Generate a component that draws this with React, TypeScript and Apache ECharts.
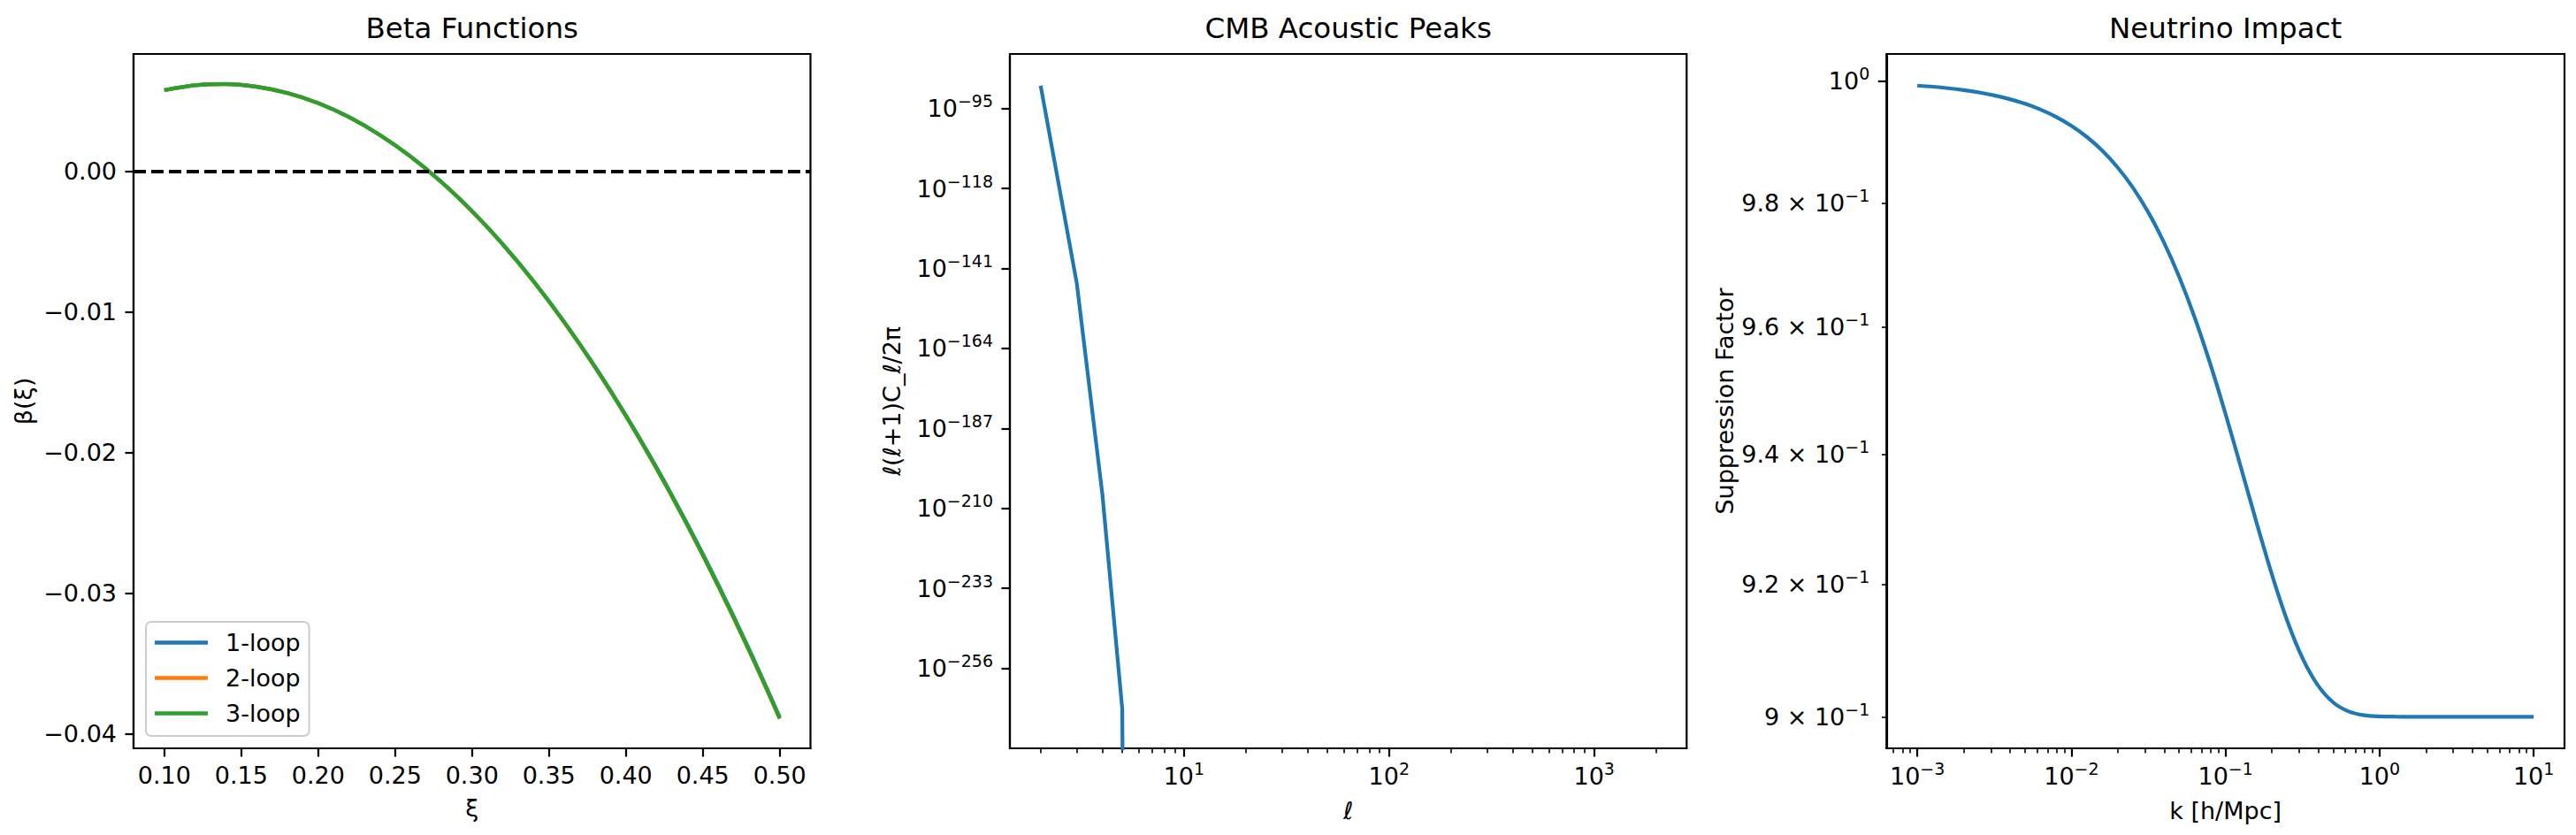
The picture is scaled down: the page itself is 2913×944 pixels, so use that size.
import React, { useEffect, useRef } from 'react';
import * as echarts from 'echarts';

const FONT = 'DejaVu Sans';
const BLUE = '#1f77b4';
const ORANGE = '#ff7f0e';
const GREEN = '#2ca02c';

// ---------- Panel 1: Beta Functions ----------
const xiValues = [0.10, 0.12, 0.14, 0.16, 0.18, 0.20, 0.22, 0.24, 0.26, 0.28, 0.30, 0.32, 0.34, 0.36, 0.38, 0.40, 0.42, 0.44, 0.46, 0.48, 0.50];
const beta1Loop = [0.00575, 0.00610, 0.00619, 0.00600, 0.00555, 0.00483, 0.00384, 0.00257, 0.00104, -0.00077, -0.00285, -0.00520, -0.00783, -0.01073, -0.01391, -0.01736, -0.02109, -0.02511, -0.02940, -0.03397, -0.03883];
const beta2Loop = [0.00574, 0.00609, 0.00618, 0.00599, 0.00554, 0.00482, 0.00383, 0.00256, 0.00103, -0.00078, -0.00287, -0.00523, -0.00786, -0.01078, -0.01397, -0.01743, -0.02118, -0.02521, -0.02951, -0.03409, -0.03895];
const beta3Loop = [0.00574, 0.00609, 0.00618, 0.00599, 0.00554, 0.00482, 0.00383, 0.00256, 0.00103, -0.00078, -0.00286, -0.00522, -0.00785, -0.01076, -0.01395, -0.01741, -0.02116, -0.02518, -0.02948, -0.03406, -0.03892];
const xiTicks = [0.10, 0.15, 0.20, 0.25, 0.30, 0.35, 0.40, 0.45, 0.50];
const betaTicks = [-0.04, -0.03, -0.02, -0.01, 0];

// ---------- Panel 2: CMB Acoustic Peaks ----------
const cmbEll = [2, 3, 4, 5, 6, 10, 100, 1000, 2000];
// log10 of l(l+1)C_l/2pi; null = underflow to 0 (clipped like matplotlib's log scale)
const cmbLog10Dl: (number | null)[] = [-88.4, -145.2, -206.0, -267.7, null, null, null, null, null];
const cmbYTickExps = [-95, -118, -141, -164, -187, -210, -233, -256];
const cmbXTickExps = [1, 2, 3];

// ---------- Panel 3: Neutrino Impact ----------
const kValues = [0.001, 0.001259, 0.001585, 0.001995, 0.002512, 0.003162, 0.003981, 0.005012, 0.00631, 0.007943,
  0.01, 0.01259, 0.01585, 0.01995, 0.02512, 0.03162, 0.03981, 0.05012, 0.0631, 0.07943,
  0.1, 0.1259, 0.1585, 0.1995, 0.2512, 0.3162, 0.3981, 0.5012, 0.631, 0.7943,
  1, 1.259, 1.585, 1.995, 2.512, 3.162, 3.981, 5.012, 6.31, 7.943, 10];
const suppression = [0.99923, 0.99904, 0.99879, 0.99848, 0.99809, 0.99760, 0.99698, 0.99622, 0.99526, 0.99407,
  0.99260, 0.99077, 0.98852, 0.98577, 0.98243, 0.97841, 0.97362, 0.96801, 0.96155, 0.95428,
  0.94633, 0.93797, 0.92955, 0.92155, 0.91448, 0.90878, 0.90468, 0.90212, 0.90078, 0.90022,
  0.90005, 0.90001, 0.90000, 0.90000, 0.90000, 0.90000, 0.90000, 0.90000, 0.90000, 0.90000, 0.90000];
const kTickExps = [-3, -2, -1, 0, 1];
const suppTicks = [0.90, 0.92, 0.94, 0.96, 0.98, 1.0];
const suppTickLabels = ['{b|9 × 10}{s|−1}', '{b|9.2 × 10}{s|−1}', '{b|9.4 × 10}{s|−1}', '{b|9.6 × 10}{s|−1}', '{b|9.8 × 10}{s|−1}', '{b|10}{s|0}'];

const LOG_FLOOR = -1000;

function minorLogTicks(min: number, max: number) {
  const out: number[] = [];
  for (let e = Math.floor(min); e <= Math.ceil(max); e++) {
    for (let m = 2; m <= 9; m++) {
      const v = e + Math.log10(m);
      if (v >= min && v <= max) out.push(v);
    }
  }
  return out;
}

function supLabel(exp: number) {
  const s = exp < 0 ? '−' + Math.abs(exp) : String(exp);
  return `{b|10}{s|${s}}`;
}

const rich = {
  b: { fontSize: 27, fontFamily: FONT, color: '#000', lineHeight: 36 },
  s: { fontSize: 19, fontFamily: FONT, color: '#000', lineHeight: 19, verticalAlign: 'top' },
};

const AX = { color: '#000', width: 2.2 };
const majorTick = (vals: number[]) => ({ show: true, customValues: vals, length: 9.5, lineStyle: { color: '#000', width: 2.2 } });
const minorTick = (vals: number[]) => ({ show: true, customValues: vals, length: 5.4, lineStyle: { color: '#000', width: 1.6 } });

const GRID_TOP = 61;
const GRID_H = 785;
const grids = [
  { left: 151, width: 765.5 },
  { left: 1142, width: 765.3 },
  { left: 2133.3, width: 766.7 },
];

function buildOption() {
  const p2x = [0.151, 3.451];
  const p3x = [-3.2, 1.2];
  const p3y = [-0.04803, 0.00194];
  const plainLabel = { fontSize: 27, fontFamily: FONT, color: '#000', lineHeight: 27 };

  const lineSeries = (name: string, data: number[][], color: string, xi: number, yi: number, extra: any = {}) => ({
    type: 'line', name, data, xAxisIndex: xi, yAxisIndex: yi, showSymbol: false, symbol: 'none',
    lineStyle: { color, width: 4.2 }, itemStyle: { color }, clip: true, silent: true, ...extra,
  });
  const smooth = { smooth: 0.3 };

  return {
    animation: false,
    backgroundColor: '#fff',
    textStyle: { fontFamily: FONT },
    grid: grids.map((g) => ({
      left: g.left, top: GRID_TOP, width: g.width, height: GRID_H,
      show: true, borderColor: '#000', borderWidth: 2.2, backgroundColor: 'transparent',
    })),
    legend: {
      data: ['1-loop', '2-loop', '3-loop'],
      orient: 'vertical', left: 165, top: 703,
      padding: [10, 10, 12, 10], itemGap: 13, itemWidth: 60, itemHeight: 4.5, icon: 'rect',
      backgroundColor: 'rgba(255,255,255,0.8)', borderColor: '#cccccc', borderWidth: 2, borderRadius: 6,
      textStyle: { fontSize: 27, fontFamily: FONT, color: '#000', lineHeight: 27, padding: [0, 0, 0, 15] },
    },
    xAxis: [
      {
        type: 'value', gridIndex: 0, min: 0.08, max: 0.52,
        axisLine: { show: true, onZero: false, lineStyle: AX },
        axisTick: majorTick(xiTicks),
        axisLabel: { ...plainLabel, customValues: xiTicks, margin: 17, formatter: (v: number) => v.toFixed(2) },
        splitLine: { show: false },
      },
      {
        type: 'value', gridIndex: 1, min: p2x[0], max: p2x[1],
        axisLine: { show: true, onZero: false, lineStyle: AX },
        axisTick: majorTick(cmbXTickExps),
        axisLabel: { customValues: cmbXTickExps, margin: 13.6, rich, lineHeight: 36, formatter: (v: number) => supLabel(Math.round(v)) },
        splitLine: { show: false },
      },
      {
        type: 'value', gridIndex: 1, min: p2x[0], max: p2x[1], position: 'bottom',
        axisLine: { show: false, onZero: false },
        axisTick: minorTick(minorLogTicks(p2x[0], p2x[1])),
        axisLabel: { show: false }, splitLine: { show: false },
      },
      {
        type: 'value', gridIndex: 2, min: p3x[0], max: p3x[1],
        axisLine: { show: true, onZero: false, lineStyle: AX },
        axisTick: majorTick(kTickExps),
        axisLabel: { customValues: kTickExps, margin: 13.6, rich, lineHeight: 36, formatter: (v: number) => supLabel(Math.round(v)) },
        splitLine: { show: false },
      },
      {
        type: 'value', gridIndex: 2, min: p3x[0], max: p3x[1], position: 'bottom',
        axisLine: { show: false, onZero: false },
        axisTick: minorTick(minorLogTicks(p3x[0], p3x[1])),
        axisLabel: { show: false }, splitLine: { show: false },
      },
    ],
    yAxis: [
      {
        type: 'value', gridIndex: 0, min: -0.04105, max: 0.00832,
        axisLine: { show: true, onZero: false, lineStyle: AX },
        axisTick: majorTick(betaTicks),
        axisLabel: {
          ...plainLabel, customValues: betaTicks, margin: 19,
          formatter: (v: number) => (Math.abs(v) < 1e-9 ? '0.00' : '−' + Math.abs(v).toFixed(2)),
        },
        splitLine: { show: false },
      },
      {
        type: 'value', gridIndex: 1, min: -279.0, max: -79.3,
        axisLine: { show: true, onZero: false, lineStyle: AX },
        axisTick: majorTick(cmbYTickExps),
        axisLabel: { customValues: cmbYTickExps, margin: 19, rich, lineHeight: 36, formatter: (v: number) => supLabel(Math.round(v)) },
        splitLine: { show: false },
      },
      {
        type: 'value', gridIndex: 2, min: p3y[0], max: p3y[1],
        axisLine: { show: true, onZero: false, lineStyle: AX },
        axisTick: majorTick([0]),
        axisLabel: {
          customValues: suppTicks.map((t) => Math.log10(t)), margin: 19, rich, lineHeight: 36,
          formatter: (v: number) => {
            let best = 0;
            suppTicks.forEach((t, i) => {
              if (Math.abs(Math.log10(t) - v) < Math.abs(Math.log10(suppTicks[best]) - v)) best = i;
            });
            return suppTickLabels[best];
          },
        },
        splitLine: { show: false },
      },
      {
        type: 'value', gridIndex: 2, min: p3y[0], max: p3y[1], position: 'left',
        axisLine: { show: false, onZero: false },
        axisTick: minorTick(suppTicks.filter((t) => t < 1).map((t) => Math.log10(t))),
        axisLabel: { show: false }, splitLine: { show: false },
      },
    ],
    series: [
      lineSeries('1-loop', xiValues.map((x, i) => [x, beta1Loop[i]]), BLUE, 0, 0, {
        ...smooth,
        markLine: {
          silent: true, symbol: ['none', 'none'], label: { show: false },
          lineStyle: { color: '#000', width: 4, type: [14, 6] },
          data: [{ yAxis: 0 }],
        },
      }),
      lineSeries('2-loop', xiValues.map((x, i) => [x, beta2Loop[i]]), ORANGE, 0, 0, smooth),
      lineSeries('3-loop', xiValues.map((x, i) => [x, beta3Loop[i]]), GREEN, 0, 0, smooth),
      lineSeries('cmb', cmbEll.map((l, i) => [Math.log10(l), cmbLog10Dl[i] ?? LOG_FLOOR]), BLUE, 1, 1),
      lineSeries('neutrino', kValues.map((k, i) => [Math.log10(k), Math.log10(suppression[i])]), BLUE, 3, 2, smooth),
    ],
    graphic: [
      ...[
        ['Beta Functions', 0],
        ['CMB Acoustic Peaks', 1],
        ['Neutrino Impact', 2],
      ].map(([t, gi]) => ({
        type: 'text', x: grids[gi as number].left + grids[gi as number].width / 2, y: 32,
        style: { text: t as string, fontSize: 32.5, fontFamily: FONT, fill: '#000', align: 'center', verticalAlign: 'middle' },
      })),
      { type: 'text', x: grids[0].left + grids[0].width / 2, y: 913, style: { text: 'ξ', fontSize: 27, fontFamily: FONT, fill: '#000', align: 'center', verticalAlign: 'middle' } },
      { type: 'text', x: grids[1].left + grids[1].width / 2, y: 916, style: { text: 'ℓ', fontSize: 27, fontStyle: 'italic', fontFamily: FONT, fill: '#000', align: 'center', verticalAlign: 'middle' } },
      { type: 'text', x: grids[2].left + grids[2].width / 2, y: 916, style: { text: 'k [h/Mpc]', fontSize: 27, fontFamily: FONT, fill: '#000', align: 'center', verticalAlign: 'middle' } },
      { type: 'text', x: 26, y: GRID_TOP + GRID_H / 2, rotation: Math.PI / 2, style: { text: 'β(ξ)', fontSize: 27, fontFamily: FONT, fill: '#000', align: 'center', verticalAlign: 'middle' } },
      { type: 'text', x: 1008, y: GRID_TOP + GRID_H / 2, rotation: Math.PI / 2, style: { text: 'ℓ(ℓ+1)C_ℓ/2π', fontSize: 27, fontFamily: FONT, fill: '#000', align: 'center', verticalAlign: 'middle' } },
      { type: 'text', x: 1950, y: GRID_TOP + GRID_H / 2, rotation: Math.PI / 2, style: { text: 'Suppression Factor', fontSize: 27, fontFamily: FONT, fill: '#000', align: 'center', verticalAlign: 'middle' } },
    ],
  };
}

export default function App() {
  const ref = useRef<HTMLDivElement>(null);
  useEffect(() => {
    if (!ref.current) return;
    const chart = echarts.init(ref.current, null, { renderer: 'svg' });
    chart.setOption(buildOption() as any);
    return () => chart.dispose();
  }, []);
  return (
    <div
      ref={ref}
      style={{ position: 'fixed', left: 0, top: 0, width: 2913, height: 944, background: '#fff' }}
    />
  );
}
